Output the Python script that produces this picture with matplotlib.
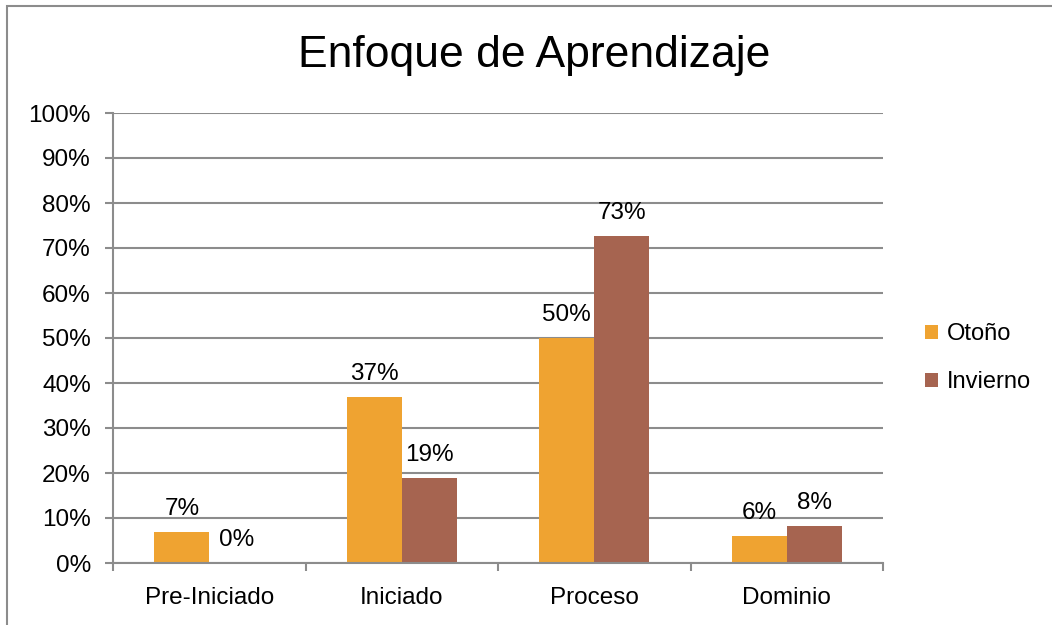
import numpy as np
import matplotlib.pyplot as plt
from matplotlib.patches import Rectangle

categories = ['Pre-Iniciado', 'Iniciado', 'Proceso', 'Dominio']
otono = [0.07, 0.37, 0.50, 0.06]
invierno = [0.0, 0.19, 0.726, 0.083]
series_names = ['Otoño', 'Invierno']
yticks = np.arange(0, 1.01, 0.1)

c_oto = '#EFA331'
c_inv = '#A66450'
grid_c = '#8C8C8C'

plt.rcParams['font.family'] = ['Liberation Sans', 'DejaVu Sans']

fig = plt.figure(figsize=(10.52, 6.25), dpi=100)
W, H = 1052, 625
ax = fig.add_axes([113 / W, 1 - 563 / H, (883 - 113) / W, (563 - 113) / H])

# outer chart border (only left/top visible in the crop)
fig.patches.append(Rectangle((7 / W, -0.1), 1.2, 1 - 6 / H + 0.1, transform=fig.transFigure,
                             fill=False, edgecolor='#8C8C8C', lw=1.5))

x = np.arange(len(categories))
bw = 0.285
b1 = ax.bar(x - bw / 2, otono, bw, color=c_oto, label=series_names[0])
b2 = ax.bar(x + bw / 2, invierno, bw, color=c_inv, label=series_names[1])

for bars, vals in ((b1, otono), (b2, invierno)):
    for r, v in zip(bars, vals):
        ax.annotate(f'{round(v * 100):.0f}%', (r.get_x() + r.get_width() / 2, v),
                    xytext=(0, 8.5), textcoords='offset points', ha='center', va='bottom',
                    fontsize=17.5, color='#000000')

ax.set_xlim(-0.5, len(categories) - 0.5)
ax.set_ylim(0, 1)
ax.set_yticks(yticks)
ax.set_yticklabels([f'{round(t * 100)}%' for t in yticks], fontsize=17.5)
ax.yaxis.grid(True, color=grid_c, lw=1.5)
ax.set_axisbelow(True)

ax.set_xticks(x)
ax.set_xticklabels(categories, fontsize=17.5)
ax.tick_params(axis='x', length=0, pad=17)
ax.set_xticks(np.arange(-0.5, len(categories)), minor=True)
ax.tick_params(axis='x', which='minor', length=6, color=grid_c, width=1.5)
ax.tick_params(axis='y', length=6, color=grid_c, width=1.5, pad=10)

for s in ['top', 'right']:
    ax.spines[s].set_visible(False)
for s in ['left', 'bottom']:
    ax.spines[s].set_color(grid_c)
    ax.spines[s].set_linewidth(1.5)

fig.text(534 / W, 1 - 55 / H, 'Enfoque de Aprendizaje', ha='center', va='center', fontsize=32)

fig.legend(handles=[b1, b2], loc='center left', bbox_to_anchor=(904 / W, 1 - 358 / H),
           frameon=False, fontsize=17, handlelength=0.55, handleheight=0.55,
           handletextpad=0.35, labelspacing=1.1)

fig.savefig('out.png', dpi=100)
